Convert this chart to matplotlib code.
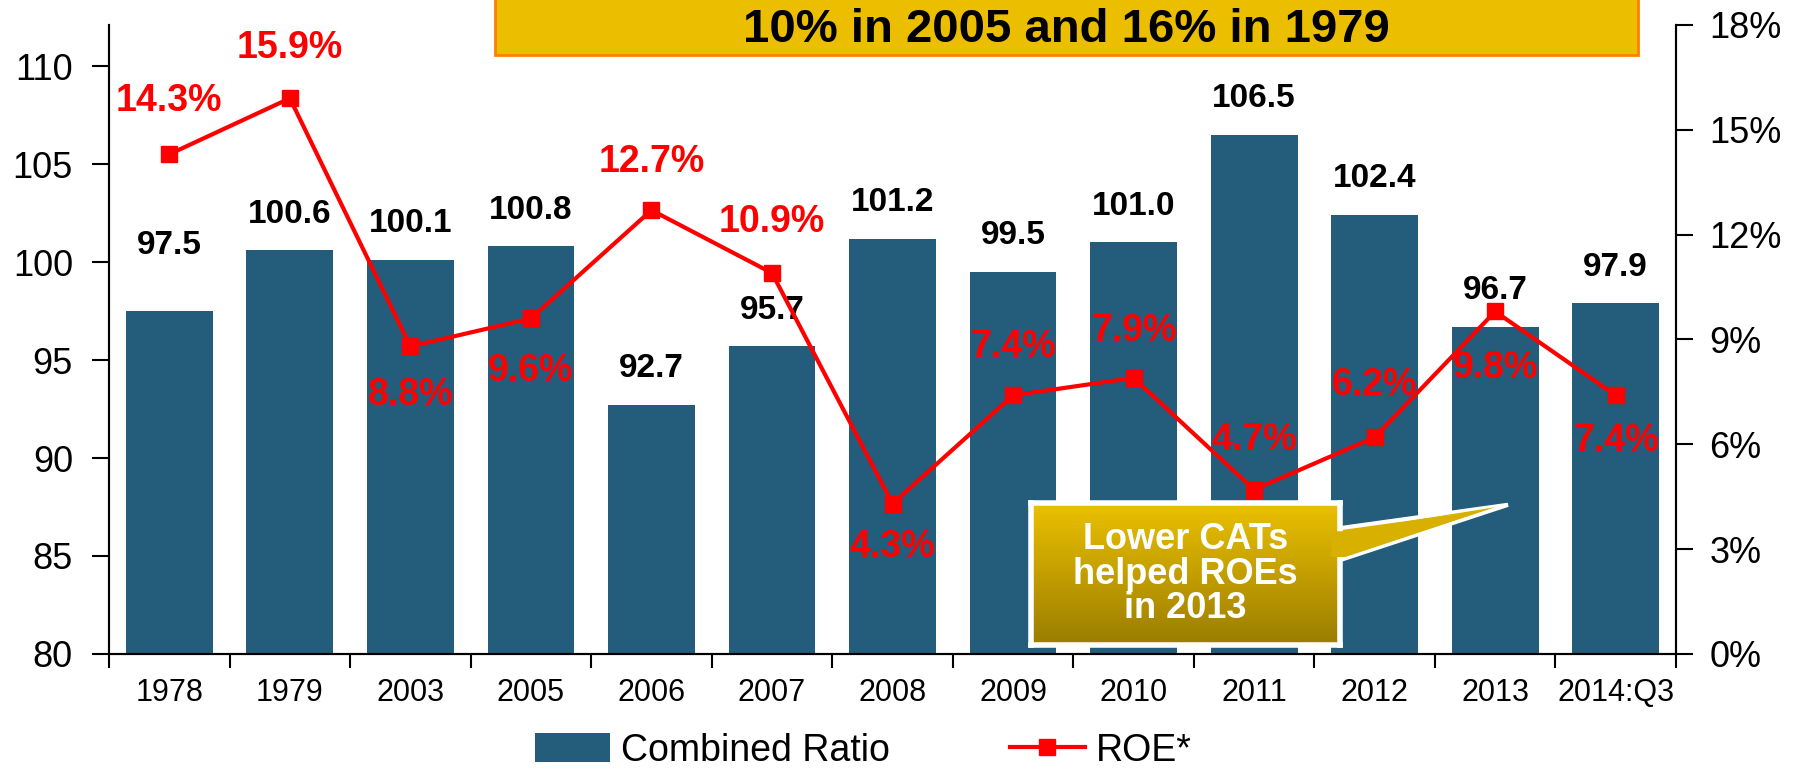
import numpy as np
import matplotlib.pyplot as plt
from matplotlib.patches import Patch, Polygon, Rectangle
from matplotlib.lines import Line2D

plt.rcParams['font.family'] = ['Liberation Sans', 'DejaVu Sans']

years = ['1978', '1979', '2003', '2005', '2006', '2007', '2008', '2009',
         '2010', '2011', '2012', '2013', '2014:Q3']
combined_ratio = [97.5, 100.6, 100.1, 100.8, 92.7, 95.7, 101.2, 99.5,
                  101.0, 106.5, 102.4, 96.7, 97.9]
roe = [14.3, 15.9, 8.8, 9.6, 12.7, 10.9, 4.3, 7.4, 7.9, 4.7, 6.2, 9.8, 7.4]

# label placement (points above(+)/below(-) the marks)
bar_off = [47, 26, 26, 26, 26, 26, 26, 26, 26, 26, 26, 26, 26]
roe_off = [38, 36, -35, -38, 35, 37, -31, 35, 34, 36, 38, -41, -33]

bar_col = '#245c7c'
red = '#ff0000'

fig = plt.figure(figsize=(18.06, 7.79), dpi=100)
ax = fig.add_axes([0.0604, 0.1605, 0.8676, 0.8075])
ax2 = ax.twinx()

x = np.arange(len(years))
ax.bar(x, combined_ratio, width=0.72, color=bar_col, zorder=2)
ax.set_ylim(80, 112.1)
ax.set_xlim(-0.5, len(years) - 0.5)
ax.set_yticks([80, 85, 90, 95, 100, 105, 110])
ax.set_xticks(x)
ax.set_xticklabels(years, fontsize=22)
ax.set_xticks(np.arange(-0.5, len(years)), minor=True)
ax.tick_params(axis='x', which='major', length=0, pad=17)
ax.tick_params(axis='x', which='minor', length=10, width=1.5, direction='out')
ax.tick_params(axis='y', labelsize=26, length=12, width=1.5, pad=14)

for i in range(len(years)):
    ax.annotate(f'{combined_ratio[i]:.1f}', (x[i], combined_ratio[i]),
                xytext=(0, bar_off[i]), textcoords='offset points',
                ha='center', va='center', fontsize=24, fontweight='bold',
                color='black')

ax2.plot(x, roe, color=red, linewidth=3, marker='s', markersize=12, zorder=3)
ax2.set_ylim(0, 18)
ax2.set_yticks([0, 3, 6, 9, 12, 15, 18])
ax2.set_yticklabels([f'{v}%' for v in [0, 3, 6, 9, 12, 15, 18]])
ax2.tick_params(axis='y', labelsize=26, length=12, width=1.5, pad=12)
for i in range(len(years)):
    ax2.annotate(f'{roe[i]}%', (x[i], roe[i]), xytext=(0, roe_off[i]),
                 textcoords='offset points', ha='center', va='center',
                 fontsize=27, fontweight='bold', color=red)

for a in [ax, ax2]:
    a.spines['top'].set_visible(False)
    for s in ['left', 'right', 'bottom']:
        a.spines[s].set_linewidth(1.5)

# banner at the top
fig.patches.append(Rectangle((0.274, 0.929), 0.633, 0.09, transform=fig.transFigure,
                             facecolor='#ebbe00', edgecolor='#ff7f00', linewidth=2,
                             zorder=20))
fig.text(0.5905, 0.962, '10% in 2005 and 16% in 1979', ha='center', va='center',
         fontsize=34, fontweight='bold', zorder=21)

# callout
fig.patches.append(Polygon([(0.735, 0.322), (0.742, 0.322), (0.835, 0.352),
                            (0.742, 0.281), (0.735, 0.281)], closed=True,
                           transform=fig.transFigure, facecolor='#d8b000',
                           edgecolor='white', linewidth=3, zorder=9))
cax = fig.add_axes([0.571, 0.172, 0.171, 0.182], zorder=10)
grad = np.linspace(0, 1, 100).reshape(-1, 1)
top_c = np.array([235, 192, 0]) / 255
bot_c = np.array([155, 125, 0]) / 255
img = top_c[None, None, :] * (1 - grad[:, :, None]) + bot_c[None, None, :] * grad[:, :, None]
cax.imshow(img, aspect='auto', extent=[0, 1, 0, 1])
cax.set_xticks([])
cax.set_yticks([])
for s in cax.spines.values():
    s.set_color('white')
    s.set_linewidth(4)
cax.text(0.5, 0.5, 'Lower CATs\nhelped ROEs\nin 2013', ha='center', va='center',
         color='white', fontsize=26, fontweight='bold', linespacing=0.98,
         transform=cax.transAxes)
fig.patches.append(Polygon([(0.737, 0.318), (0.745, 0.318), (0.828, 0.349),
                            (0.745, 0.285), (0.737, 0.285)], closed=True,
                           transform=fig.transFigure, facecolor='#d8b000',
                           edgecolor='none', zorder=11))

handles = [Patch(facecolor=bar_col, label='Combined Ratio'),
           Line2D([0], [0], color=red, linewidth=3, marker='s', markersize=12,
                  label='ROE*')]
fig.legend(handles=handles, loc='lower center', bbox_to_anchor=(0.478, -0.03),
           ncol=2, frameon=False, fontsize=27, columnspacing=3.2, handlelength=2,
           handleheight=0.8, handletextpad=0.3)

plt.savefig('out.png', dpi=100)
